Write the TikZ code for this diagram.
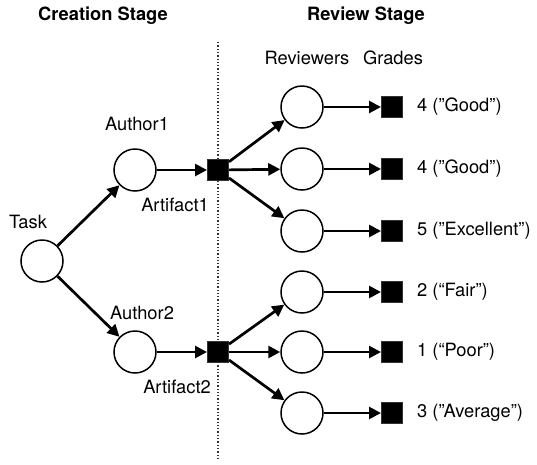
\documentclass[tikz,border=0pt]{standalone}
\usepackage{fontspec}
\setmainfont{TeX Gyre Heros}
\usetikzlibrary{arrows.meta}
\begin{document}
\begin{tikzpicture}[x=1pt,y=-1pt,
  agent/.style={circle,draw=black,fill=white,line width=1.5pt,minimum size=42pt,inner sep=0pt},
  item/.style={rectangle,draw=black!80,fill=black,line width=1pt,minimum size=21pt,inner sep=0pt},
  lbl/.style={font=\fontsize{18.3}{20}\selectfont,inner sep=0pt},
  title/.style={font=\fontsize{18.3}{20}\selectfont\bfseries,inner sep=0pt},
  flow/.style={line width=2.7pt,-{Triangle[length=12pt,width=12pt]}}]
\useasboundingbox (0,0) rectangle (537,464);

% stage headings and divider
\node[title] (h1) at (103,16) {Creation Stage};
\node[title] (h2) at (366,16) {Review Stage};
\coordinate (dtop) at (218,42);
\coordinate (dbot) at (218,461);
\draw[line width=1.3pt,dash pattern=on 1.3pt off 2pt,black!80] (dtop) -- (dbot);

% creation stage
\node[agent] (task) at (42,261) {};
\node[lbl] (tasklbl) at (28,222) {Task};
\node[agent] (a1) at (135,170) {};
\node[lbl] (a1lbl) at (137,124) {Author1};
\node[agent] (a2) at (135,352) {};
\node[lbl] (a2lbl) at (142,313) {Author2};
\node[item] (f1) at (218,170) {};
\node[lbl] (f1lbl) at (175,205) {Artifact1};
\node[item] (f2) at (218,352) {};
\node[lbl] (f2lbl) at (177,387) {Artifact2};

\draw[flow] (task) -- (a1);
\draw[flow] (task) -- (a2);
\draw[flow] (a1) -- (f1);
\draw[flow] (a2) -- (f2);

% review stage
\node[lbl] (revlbl) at (307,58) {Reviewers};
\node[lbl] (grdlbl) at (393,58) {Grades};

\foreach \i/\y/\g in {1/107/4 (''Good''),2/169/4 (''Good''),3/231/5 (''Excellent''),
                      4/292/2 (``Fair''),5/352/1 (``Poor''),6/413/3 (''Average'')}{
  \node[agent] (r\i) at (302,\y) {};
  \node[item] (g\i) at (392,\y) {};
  \node[lbl,anchor=west] (t\i) at (417,\y) {\g};
  \draw[flow] (r\i) -- (g\i);
}

\foreach \i in {1,2,3} \draw[flow] (f1) -- (r\i);
\foreach \i in {4,5,6} \draw[flow] (f2) -- (r\i);
\end{tikzpicture}
\end{document}
